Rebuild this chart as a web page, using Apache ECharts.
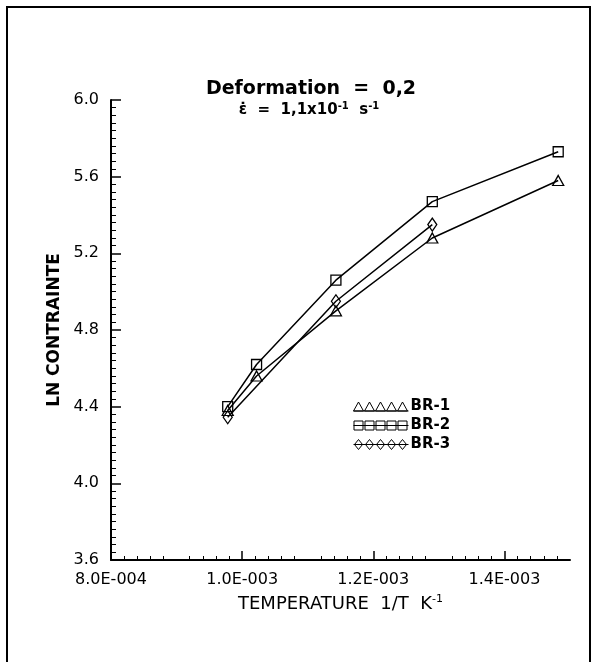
<!DOCTYPE html>
<html>
<head>
<meta charset="utf-8">
<script src="https://cdn.jsdelivr.net/npm/echarts@6/dist/echarts.min.js"></script>
<style>
  html, body { margin: 0; padding: 0; background: #fff; }
</style>
</head>
<body>
<div id="chart" style="width: 594px; height: 662px;"></div>
<script>
// 1/T values (K^-1)
const tempX = [0.000978, 0.001022, 0.001143, 0.00129, 0.001482]
const br1 = [4.38, 4.56, 4.90, 5.28, 5.58]
const br2 = [4.40, 4.62, 5.06, 5.47, 5.73]
const br3X = [0.000978, 0.001143, 0.00129]
const br3 = [4.345, 4.95, 5.35]

const xTicks = [0.0008, 0.0010, 0.0012, 0.0014]
const xTickLabels = ['8.0E-004', '1.0E-003', '1.2E-003', '1.4E-003']
const yTicks = [3.6, 4.0, 4.4, 4.8, 5.2, 5.6, 6.0]
const yTickLabels = ['3.6', '4.0', '4.4', '4.8', '5.2', '5.6', '6.0']

const FONT = 'DejaVu Sans'

function pick (ticks, labels, v) {
  const i = ticks.findIndex(t => Math.abs(t - v) < 1e-9)
  return i >= 0 ? labels[i] : ''
}

// legend icons: 5 little symbols strung on a line
function iconPath (kind) {
  let p = kind === 'tri' ? 'M0 10 L55 10' : 'M0 5 L55 5'
  for (let i = 0; i < 5; i++) {
    const c = 5 + i * 11
    if (kind === 'tri') p += ' M' + (c - 5) + ' 10 L' + c + ' 1 L' + (c + 5) + ' 10 Z'
    if (kind === 'sq') p += ' M' + (c - 4.5) + ' 0.5 L' + (c + 4.5) + ' 0.5 L' + (c + 4.5) + ' 9.5 L' + (c - 4.5) + ' 9.5 Z'
    if (kind === 'dia') p += ' M' + (c - 4) + ' 5 L' + c + ' 0 L' + (c + 4) + ' 5 L' + c + ' 10 Z'
  }
  return 'path://' + p
}

const symStyle = { color: 'none', borderColor: '#000', borderWidth: 1.3 }
const iconStyle = { color: '#fff', borderColor: '#000', borderWidth: 1 }

let myChart = echarts.init(document.getElementById('chart'))
myChart.setOption({
  animation: false,
  backgroundColor: '#fff',
  grid: { left: 111, right: 24, top: 100, bottom: 102, outerBoundsMode: 'none' },
  graphic: [
    {
      type: 'polyline',
      shape: { points: [[7, 662], [7, 7], [590, 7], [590, 662]] },
      style: { stroke: '#000', lineWidth: 2, fill: 'none' }
    },
    {
      type: 'text',
      x: 311,
      y: 80,
      style: { text: 'Deformation  =  0,2', font: 'bold 19px "DejaVu Sans"', fill: '#000', textAlign: 'center' }
    },
    {
      type: 'text',
      x: 309,
      y: 101,
      style: {
        text: 'ε̇  =  1,1x10{sup|-1}  s{sup|-1}',
        font: 'bold 15px "DejaVu Sans"',
        fill: '#000',
        textAlign: 'center',
        rich: { sup: { fontSize: 10, fontWeight: 'bold', fontFamily: FONT, verticalAlign: 'top', lineHeight: 19 } }
      }
    }
  ],
  legend: {
    orient: 'vertical',
    left: 353,
    top: 399,
    padding: 0,
    itemWidth: 55,
    itemHeight: 10,
    itemGap: 4,
    selectedMode: false,
    textStyle: { fontFamily: FONT, fontWeight: 'bold', fontSize: 15, color: '#000', padding: [0, 0, 0, -3] },
    data: [
      { name: 'BR-1', icon: iconPath('tri'), itemStyle: iconStyle },
      { name: 'BR-2', icon: iconPath('sq'), itemStyle: iconStyle },
      { name: 'BR-3', icon: iconPath('dia'), itemStyle: iconStyle }
    ]
  },
  xAxis: {
    type: 'value',
    min: 0.0008,
    max: 0.0015,
    interval: 0.0001,
    name: 'TEMPERATURE  1/T  K{sup|-1}',
    nameLocation: 'middle',
    nameGap: 34,
    nameTextStyle: {
      fontFamily: FONT,
      fontSize: 18,
      color: '#000',
      rich: { sup: { fontSize: 11, fontFamily: FONT, color: '#000', verticalAlign: 'top', lineHeight: 21 } }
    },
    axisLine: { lineStyle: { color: '#000', width: 2 } },
    axisTick: { inside: true, length: 9, customValues: xTicks, lineStyle: { color: '#000', width: 1.5 } },
    minorTick: { show: true, splitNumber: 5, length: 4, lineStyle: { color: '#000', width: 1 } },
    axisLabel: {
      customValues: xTicks,
      margin: 12,
      fontFamily: FONT,
      fontSize: 16,
      color: '#000',
      formatter: v => pick(xTicks, xTickLabels, v)
    },
    splitLine: { show: false }
  },
  yAxis: {
    type: 'value',
    min: 3.6,
    max: 6.0,
    interval: 0.4,
    name: 'LN CONTRAINTE',
    nameLocation: 'middle',
    nameGap: 46,
    nameTextStyle: { fontFamily: FONT, fontSize: 17, fontWeight: 'bold', color: '#000' },
    axisLine: { show: true, lineStyle: { color: '#000', width: 2 } },
    axisTick: { show: true, inside: true, length: 10, lineStyle: { color: '#000', width: 1.5 } },
    minorTick: { show: true, splitNumber: 10, length: 5, lineStyle: { color: '#000', width: 1 } },
    axisLabel: {
      margin: 12,
      fontFamily: FONT,
      fontSize: 16,
      color: '#000',
      formatter: v => pick(yTicks, yTickLabels, v)
    },
    splitLine: { show: false }
  },
  series: [
    {
      name: 'BR-1',
      type: 'line',
      data: tempX.map((x, i) => [x, br1[i]]),
      symbol: 'triangle',
      symbolSize: [11, 10],
      itemStyle: symStyle,
      lineStyle: { color: '#000', width: 1.5 },
      emphasis: { disabled: true }
    },
    {
      name: 'BR-2',
      type: 'line',
      data: tempX.map((x, i) => [x, br2[i]]),
      symbol: 'rect',
      symbolSize: 10,
      itemStyle: symStyle,
      lineStyle: { color: '#000', width: 1.5 },
      emphasis: { disabled: true }
    },
    {
      name: 'BR-3',
      type: 'line',
      data: br3X.map((x, i) => [x, br3[i]]),
      symbol: 'diamond',
      symbolSize: [9, 13],
      itemStyle: symStyle,
      lineStyle: { color: '#000', width: 1.5 },
      emphasis: { disabled: true }
    }
  ]
})
</script>
</body>
</html>
